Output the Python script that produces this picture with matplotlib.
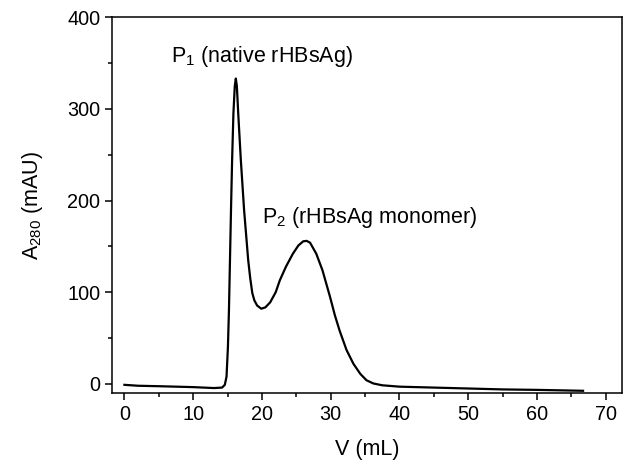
import matplotlib
matplotlib.use('Agg')
import matplotlib.pyplot as plt
from matplotlib.ticker import MultipleLocator

plt.rcParams['font.family'] = ['Liberation Sans', 'DejaVu Sans']
plt.rcParams['mathtext.fontset'] = 'custom'
plt.rcParams['mathtext.rm'] = 'Liberation Sans'
plt.rcParams['mathtext.it'] = 'Liberation Sans'
plt.rcParams['mathtext.default'] = 'regular'

# elution volume (mL) and absorbance (mAU)
volume = [0, 2, 5, 10, 13, 14.2, 14.6, 14.85, 15.05, 15.2, 15.35, 15.5, 15.66,
          15.85, 16.05, 16.2, 16.35, 16.55, 16.93, 17.4, 18.0, 18.3, 18.6, 18.9,
          19.3, 19.9, 20.5, 21.2, 22.0, 22.6, 23.5, 24.5, 25.3, 26.0, 26.5, 27.0,
          27.9, 28.8, 29.9, 30.6, 31.3, 32.3, 33.3, 34.3, 35.2, 36.2, 37.5, 40,
          45, 50, 55, 60, 66.7]
absorb = [-1, -2, -2.5, -3.5, -4.5, -4, -1, 8, 40, 80, 135, 190, 244,
          295, 325, 333, 325, 295, 244, 190, 135, 115, 99, 91,
          85.5, 82, 83.5, 89, 100, 113, 128, 142, 151, 155.5, 156, 154,
          142, 124, 95, 75, 58, 37, 22, 11, 4, 0.5, -1.5, -3,
          -4, -5, -6, -6.5, -7.5]

fig = plt.figure(figsize=(6.26, 4.63), dpi=100)
ax = fig.add_axes([0.179, 0.151, 0.815, 0.812])
ax.plot(volume, absorb, color='black', lw=1.6)

ax.set_xlim(-1.8, 72.4)
ax.set_ylim(-10, 400)
ax.xaxis.set_major_locator(MultipleLocator(10))
ax.xaxis.set_minor_locator(MultipleLocator(5))
ax.yaxis.set_major_locator(MultipleLocator(100))
ax.yaxis.set_minor_locator(MultipleLocator(50))
ax.tick_params(which='both', direction='out', top=False, right=False,
               width=1.1, labelsize=14.3)
ax.tick_params(which='major', length=5)
ax.tick_params(which='minor', length=3)
for s in ax.spines.values():
    s.set_linewidth(1.1)

ax.set_xlabel('V (mL)', fontsize=15.5, labelpad=11)
ax.set_ylabel('A$_{280}$ (mAU)', fontsize=15.5, labelpad=16)

ax.text(6.75, 357, 'P$_{1}$ (native rHBsAg)', fontsize=15.5, va='center', ha='left')
ax.text(20.0, 181, 'P$_{2}$ (rHBsAg monomer)', fontsize=15.5, va='center', ha='left')

fig.savefig('out.png', dpi=100)
